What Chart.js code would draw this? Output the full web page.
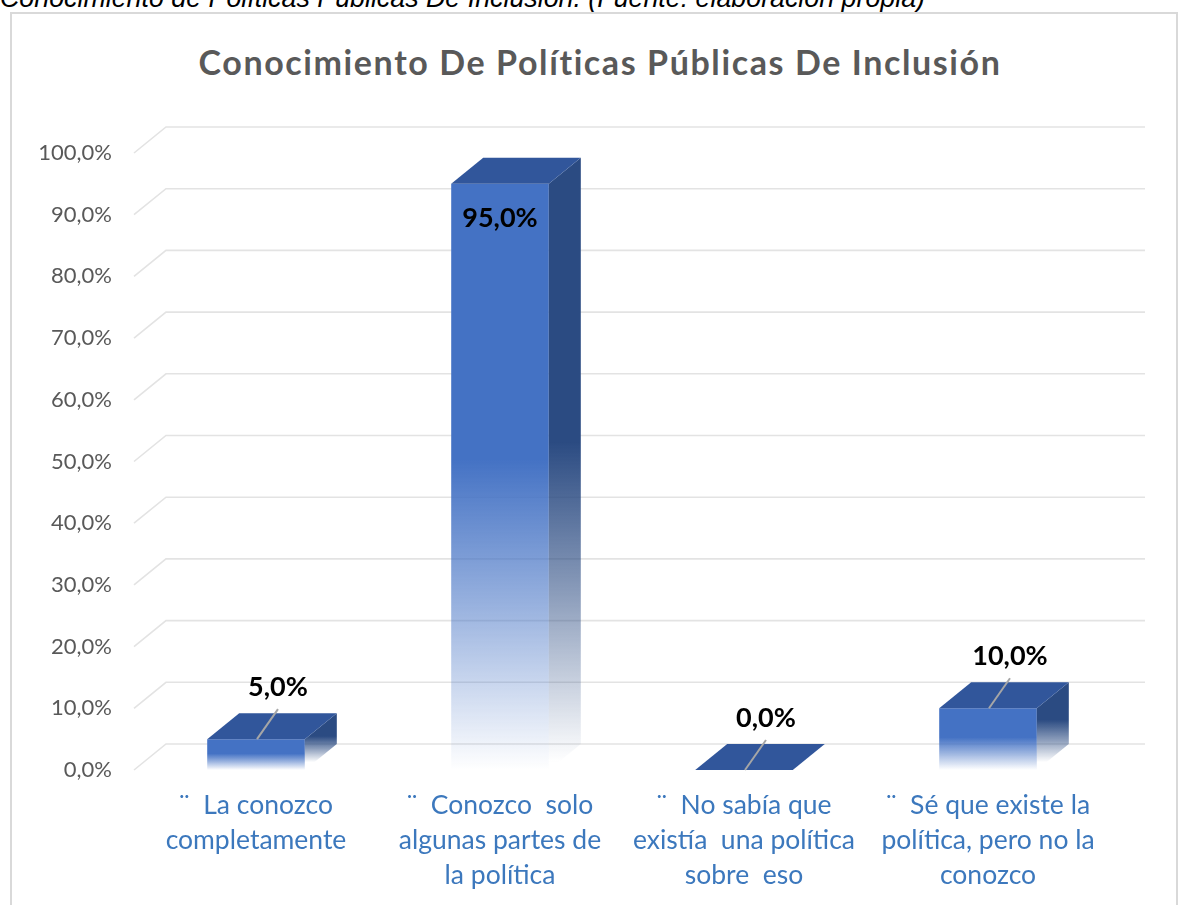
<!DOCTYPE html>
<html><head><meta charset="utf-8">
<script src="https://cdn.jsdelivr.net/npm/chart.js@4.4.0/dist/chart.umd.min.js"></script>
<style>
html,body{margin:0;padding:0;background:#fff;width:1179px;height:905px;overflow:hidden;position:relative;}
#cap{position:absolute;left:0;top:-17px;font:italic 26.8px "Liberation Sans",Arial,sans-serif;color:#000;white-space:nowrap;line-height:normal;}
#frame{position:absolute;left:10px;top:12px;width:1168px;height:900px;border:2px solid #d9d9d9;box-sizing:border-box;}
#title{position:absolute;left:0;top:40px;width:1200px;text-align:center;font:bold 34px Lato,sans-serif;color:#595959;letter-spacing:1.6px;line-height:44px;}
#wrap{position:absolute;left:0;top:0;width:1179px;height:905px;}
</style></head><body>
<div id="cap">Conocimiento de Políticas Públicas De Inclusión. (Fuente: elaboración propia)</div>
<div id="frame"></div>
<div id="title">Conocimiento De Políticas Públicas De Inclusión</div>
<div id="wrap"><canvas id="c" width="1179" height="905"></canvas></div>
<script>
// ---- data ----
const categories = [
  ["¨  La conozco", "completamente"],
  ["¨  Conozco  solo", "algunas partes de", "la política"],
  ["¨  No sabía que", "existía  una política", "sobre  eso"],
  ["¨  Sé que existe la", "política, pero no la", "conozco"]
];
const values = [5.0, 95.0, 0.0, 10.0];
const yMin = 0, yMax = 100, yStep = 10;

// ---- style ----
const FRONT = [68, 114, 196];
const TOP = '#31569b';
const SIDE = [43, 75, 130];
const DX = 32, DY = -26;
const fmt = v => v.toFixed(1).replace('.', ',') + '%';

function fadeGradient(ctx, top, base, rgb) {
  const g = ctx.createLinearGradient(0, top, 0, base);
  const c = a => `rgba(${rgb[0]},${rgb[1]},${rgb[2]},${a})`;
  g.addColorStop(0, c(1));
  g.addColorStop(0.47, c(1));
  g.addColorStop(0.72, c(0.55));
  g.addColorStop(1, c(0));
  return g;
}

const gridPlugin = {
  id: 'grid3d',
  beforeDatasetsDraw(chart) {
    const ctx = chart.ctx, y = chart.scales.y, area = chart.chartArea;
    ctx.save();
    ctx.strokeStyle = '#e3e3e3';
    ctx.lineWidth = 1.6;
    y.ticks.forEach(t => {
      const py = y.getPixelForValue(t.value);
      ctx.beginPath();
      ctx.moveTo(area.left, py);
      ctx.lineTo(area.left + DX, py + DY);
      ctx.lineTo(area.right + DX + 3, py + DY);
      ctx.stroke();
    });
    ctx.restore();
  }
};

const barPlugin = {
  id: 'bars3d',
  afterDatasetsDraw(chart) {
    const ctx = chart.ctx;
    const meta = chart.getDatasetMeta(0);
    ctx.save();
    meta.data.forEach((bar, i) => {
      const p = bar.getProps(['x', 'y', 'base', 'width'], true);
      const l = p.x - p.width / 2, r = p.x + p.width / 2;
      // side face
      if (p.base - p.y > 0.5) {
        ctx.fillStyle = fadeGradient(ctx, p.y + DY, p.base + DY * 0.3, SIDE);
        ctx.beginPath();
        ctx.moveTo(r, p.y);
        ctx.lineTo(r + DX, p.y + DY);
        ctx.lineTo(r + DX, p.base + DY);
        ctx.lineTo(r, p.base);
        ctx.closePath();
        ctx.fill();
      }
      // top face
      ctx.fillStyle = TOP;
      ctx.beginPath();
      ctx.moveTo(l, p.y);
      ctx.lineTo(l + DX, p.y + DY);
      ctx.lineTo(r + DX, p.y + DY);
      ctx.lineTo(r, p.y);
      ctx.closePath();
      ctx.fill();
    });
    // labels
    ctx.font = 'bold 27px Lato, sans-serif';
    ctx.fillStyle = '#000';
    ctx.textAlign = 'center';
    ctx.textBaseline = 'middle';
    meta.data.forEach((bar, i) => {
      const p = bar.getProps(['x', 'y', 'base', 'width'], true);
      const txt = fmt(values[i]);
      if (values[i] > 50) {
        ctx.fillText(txt, p.x, p.y + 34);
      } else {
        const lx = p.x + 22, ly = p.y + DY - 26;
        ctx.strokeStyle = '#a6a6a6';
        ctx.lineWidth = 2;
        ctx.beginPath();
        ctx.moveTo(lx, ly + 22);
        ctx.lineTo(p.x + 1, p.y);
        ctx.stroke();
        ctx.fillText(txt, lx, ly);
      }
    });
    ctx.restore();
  }
};

new Chart(document.getElementById('c'), {
  type: 'bar',
  data: {
    labels: categories,
    datasets: [{
      data: values,
      barPercentage: 0.8,
      categoryPercentage: 0.5,
      borderWidth: 0,
      backgroundColor: (c) => {
        const chart = c.chart;
        if (!chart.chartArea || c.dataIndex === undefined) return 'rgb(68,114,196)';
        const y = chart.scales.y;
        const top = y.getPixelForValue(values[c.dataIndex]);
        const base = y.getPixelForValue(0);
        if (base - top < 1) return 'rgb(68,114,196)';
        return fadeGradient(chart.ctx, top, base, FRONT);
      }
    }]
  },
  options: {
    responsive: false,
    animation: false,
    layout: { padding: { left: 10, right: 69, top: 153, bottom: 0 } },
    plugins: { legend: { display: false }, tooltip: { enabled: false }, title: { display: false } },
    scales: {
      y: {
        min: yMin, max: yMax,
        ticks: { stepSize: yStep, callback: v => fmt(v), color: '#595959', font: { family: 'Lato', size: 22 }, padding: 22 },
        grid: { display: false, drawTicks: false },
        border: { display: false },
        afterFit: s => { s.width = 124; }
      },
      x: {
        ticks: { color: '#3c78bd', font: { family: 'Lato', size: 26.5, lineHeight: 35 / 26.5 }, padding: 18, maxRotation: 0, autoSkip: false },
        grid: { display: false, drawTicks: false },
        border: { display: false },
        afterFit: s => { s.height = 135; }
      }
    }
  },
  plugins: [gridPlugin, barPlugin]
});
</script>
</body></html>
